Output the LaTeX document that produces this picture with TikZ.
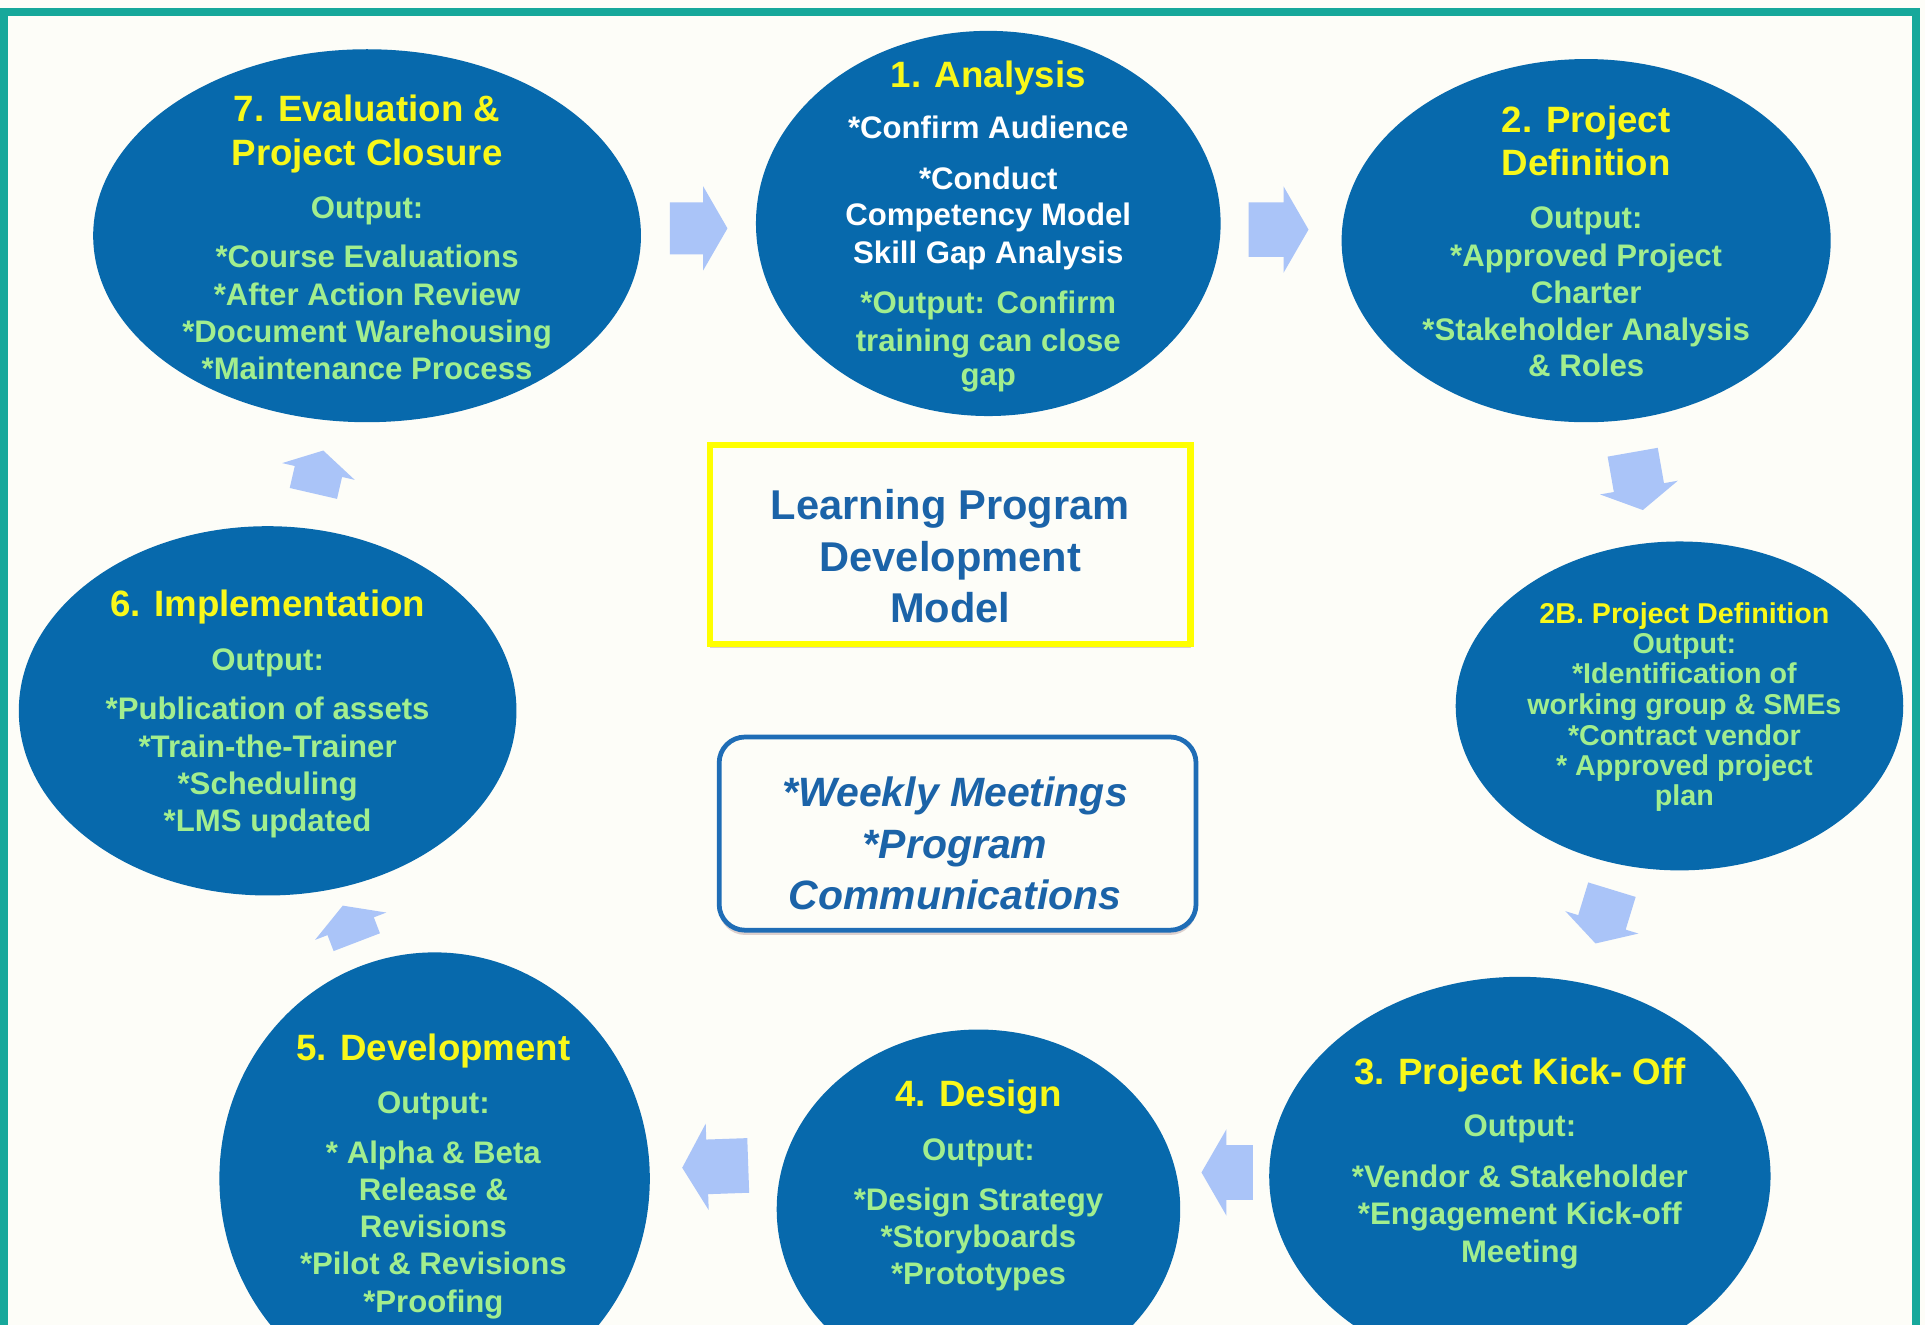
\documentclass[tikz,border=0pt]{standalone}
\usepackage{fontspec}
\setmainfont{Liberation Sans}
\usetikzlibrary{shapes.geometric,shapes.arrows,shadows}
\definecolor{tealc}{HTML}{17A89B}
\definecolor{bgc}{HTML}{FDFDF8}
\definecolor{ellc}{HTML}{0769AC}
\definecolor{ttlc}{HTML}{F8F81A}
\definecolor{bdyc}{HTML}{A2EE8E}
\definecolor{arrc}{HTML}{AAC4F8}
\definecolor{ctrc}{HTML}{1B63A8}
\definecolor{boxc}{HTML}{1F6DB6}
\definecolor{ylwc}{HTML}{FFFF00}
\definecolor{shdc}{HTML}{B89A9A}
\def\PX{0.5669pt}
\begin{document}
\begin{tikzpicture}[x=0.02cm,y=-0.02cm,
  stage/.style={ellipse, fill=ellc, inner sep=0pt, draw=none},
  ttl/.style={font=\fontsize{17}{20}\selectfont\bfseries, text=ttlc, anchor=base, inner sep=0pt},
  bdy/.style={font=\fontsize{14.45}{17}\selectfont\bfseries, text=bdyc, anchor=base, inner sep=0pt},
  wht/.style={bdy, text=white},
  ttls/.style={font=\fontsize{13.3}{16}\selectfont\bfseries, text=ttlc, anchor=base, inner sep=0pt},
  bdys/.style={font=\fontsize{13.3}{16}\selectfont\bfseries, text=bdyc, anchor=base, inner sep=0pt},
  blk/.style 2 args={single arrow, fill=arrc, draw=none, inner xsep=0pt, inner ysep=#1,
    single arrow tip angle=120, single arrow head extend=#2},
  shd/.style={drop shadow={shadow xshift=0pt, shadow yshift=-2.2pt, opacity=0.45, fill=shdc}},
]
\useasboundingbox (0,0) rectangle (1568,1079);
\fill[bgc] (0,0) rectangle (1568,1079);
\clip (0,0) rectangle (1568,1079);
% frame
\draw[tealc, line width=3.7pt, line join=miter] (3.1,1085) -- (3.1,9.4) -- (1560.4,9.4) -- (1560.4,1085);

% stages
\node[stage, minimum width={448*\PX}, minimum height={305*\PX}] (e7) at (299,192) {};
\node[stage, minimum width={380*\PX}, minimum height={315*\PX}] (e1) at (805,182) {};
\node[stage, minimum width={400*\PX}, minimum height={297*\PX}] (e2) at (1292,196) {};
\node[stage, minimum width={366*\PX}, minimum height={269*\PX}] (e2b) at (1368,575) {};
\node[stage, minimum width={410*\PX}, minimum height={326*\PX}] (e3) at (1238,958) {};
\node[stage, minimum width={330*\PX}, minimum height={294*\PX}] (e4) at (797,985) {};
\node[stage, minimum width={352*\PX}, minimum height={370*\PX}] (e5) at (354,960) {};
\node[stage, minimum width={407*\PX}, minimum height={302*\PX}] (e6) at (218,579) {};

% block arrows
\node[blk={11.9pt}{7.4pt}, minimum height={47*\PX}] (a71) at (563,186) {};
\node[blk={12.47pt}{7.4pt}, minimum height={49*\PX}] (a12) at (1035,187) {};
\node[blk={11.6pt}{6.5pt}, minimum height={48*\PX}, rotate=-80] (a22b) at (1333,386) {};
\node[blk={11.3pt}{6.2pt}, minimum height={46*\PX}, rotate=-107] (a2b3) at (1308,741) {};
\node[blk={12.47pt}{7.4pt}, minimum height={42*\PX}, rotate=180] (a34) at (1006,955) {};
\node[blk={12.47pt}{7.4pt}, minimum height={54*\PX}, rotate=182] (a45) at (589,950) {};
\node[blk={11.3pt}{6.2pt}, minimum height={32*\PX}, rotate=111] (a56) at (287,758) {};
\node[blk={11.05pt}{6pt}, minimum height={36*\PX}, rotate=77] (a67) at (258,390) {};

% centre boxes
\node[draw=ylwc, line width=2.8pt, fill=bgc, shd, minimum width={393*\PX}, minimum height={162*\PX}] (ttlbox) at (774,443.5) {};
\node[font=\fontsize{19.3}{23.8}\selectfont\bfseries, text=ctrc, align=center, inner sep=0pt] (ttltxt) at (774,453) {Learning Program\\Development\\Model};
\node[draw=boxc, line width=2.2pt, fill=bgc, shd, rounded corners=12pt, minimum width={390*\PX}, minimum height={158*\PX}] (mtgbox) at (780,679) {};
\node[font=\fontsize{19}{23.8}\selectfont\bfseries\itshape, text=ctrc, align=center, inner sep=0pt] (mtgtxt) at (778,687) {*Weekly Meetings\\*Program\\Communications};

% stage 7
\node[ttl] (t7a) at (299,99) {7. Evaluation \&};
\node[ttl] (t7b) at (299,135) {Project Closure};
\node[bdy] (t7c) at (299,178) {Output:};
\node[bdy] (t7d) at (299,218) {*Course Evaluations};
\node[bdy] (t7e) at (299,249) {*After Action Review};
\node[bdy] (t7f) at (299,279) {*Document Warehousing};
\node[bdy] (t7g) at (299,309) {*Maintenance Process};
% stage 1
\node[ttl] (t1a) at (805,71) {1. Analysis};
\node[wht] (t1b) at (805,113) {*Confirm Audience};
\node[wht] (t1c) at (805,154) {*Conduct};
\node[wht] (t1d) at (805,184) {Competency Model};
\node[wht] (t1e) at (805,215) {Skill Gap Analysis};
\node[bdy] (t1f) at (805,255) {*Output: Confirm};
\node[bdy] (t1g) at (805,286) {training can close};
\node[bdy] (t1h) at (805,314) {gap};
% stage 2
\node[ttl] (t2a) at (1292,108) {2. Project};
\node[ttl] (t2b) at (1292,143) {Definition};
\node[bdy] (t2c) at (1292,186) {Output:};
\node[bdy] (t2d) at (1292,217) {*Approved Project};
\node[bdy] (t2e) at (1292,247) {Charter};
\node[bdy] (t2f) at (1292,277) {*Stakeholder Analysis};
\node[bdy] (t2g) at (1292,307) {\& Roles};
% stage 2B
\node[ttls] (u2a) at (1372,507.5) {2B. Project Definition};
\node[bdys] (u2b) at (1372,532) {Output:};
\node[bdys] (u2c) at (1372,557) {*Identification of};
\node[bdys] (u2d) at (1372,582) {working group \& SMEs};
\node[bdys] (u2e) at (1372,607) {*Contract vendor};
\node[bdys] (u2f) at (1372,632) {* Approved project};
\node[bdys] (u2g) at (1372,656) {plan};
% stage 3
\node[ttl] (t3a) at (1238,883) {3. Project Kick- Off};
\node[bdy] (t3b) at (1238,926) {Output:};
\node[bdy] (t3c) at (1238,967) {*Vendor \& Stakeholder};
\node[bdy] (t3d) at (1238,997) {*Engagement Kick-off};
\node[bdy] (t3e) at (1238,1028) {Meeting};
% stage 4
\node[ttl] (t4a) at (797,901) {4. Design};
\node[bdy] (t4b) at (797,945) {Output:};
\node[bdy] (t4c) at (797,986) {*Design Strategy};
\node[bdy] (t4d) at (797,1016) {*Storyboards};
\node[bdy] (t4e) at (797,1046) {*Prototypes};
% stage 5
\node[ttl] (t5a) at (353,864) {5. Development};
\node[bdy] (t5b) at (353,907) {Output:};
\node[bdy] (t5c) at (353,948) {* Alpha \& Beta};
\node[bdy] (t5d) at (353,978) {Release \&};
\node[bdy] (t5e) at (353,1008) {Revisions};
\node[bdy] (t5f) at (353,1038) {*Pilot \& Revisions};
\node[bdy] (t5g) at (353,1069) {*Proofing};
% stage 6
\node[ttl] (t6a) at (218,502) {6. Implementation};
\node[bdy] (t6b) at (218,546) {Output:};
\node[bdy] (t6c) at (218,586) {*Publication of assets};
\node[bdy] (t6d) at (218,617) {*Train-the-Trainer};
\node[bdy] (t6e) at (218,647) {*Scheduling};
\node[bdy] (t6f) at (218,677) {*LMS updated};
\end{tikzpicture}
\end{document}
